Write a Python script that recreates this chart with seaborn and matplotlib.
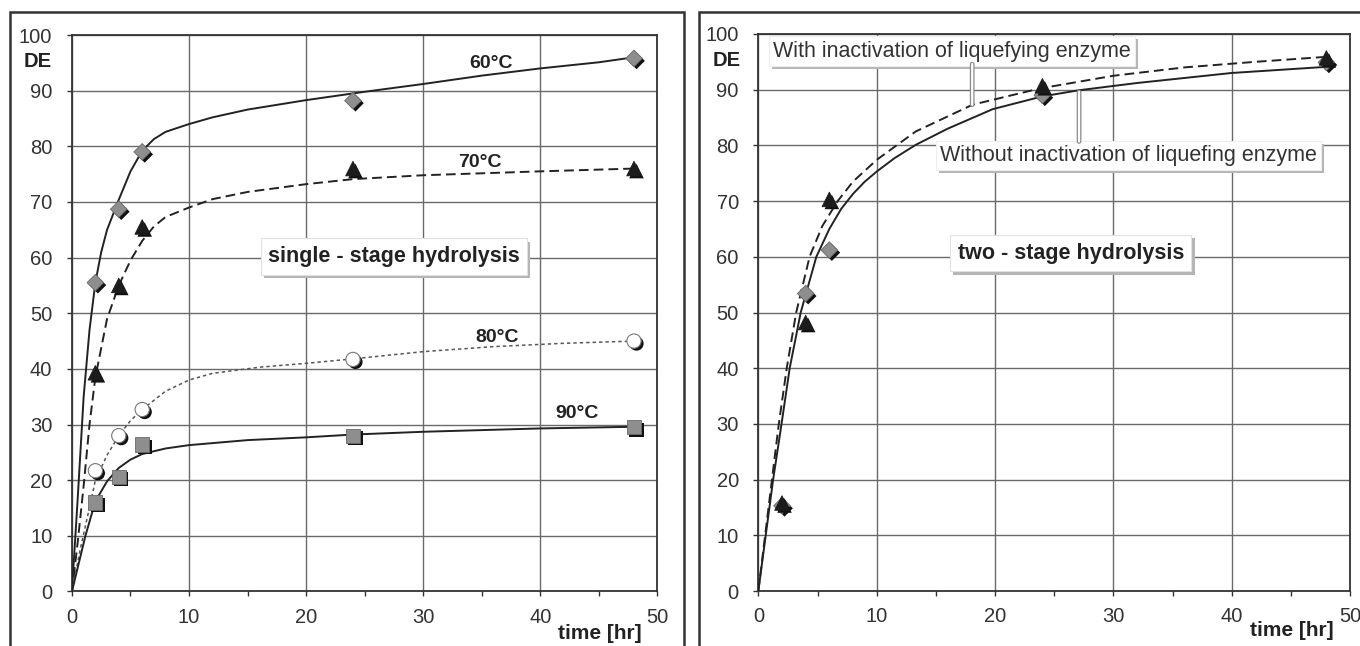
import matplotlib
matplotlib.use("Agg")
import matplotlib.pyplot as plt
import seaborn as sns
from matplotlib import patheffects as pe
from matplotlib.patches import Rectangle

# ---------------- data ----------------
time_h = [2, 4, 6, 24, 48]

# single-stage hydrolysis (measured points)
de_60C = [55.5, 68.7, 79.0, 88.2, 95.8]
de_70C = [39.3, 55.0, 65.5, 76.0, 76.0]
de_80C = [21.7, 28.0, 32.7, 41.7, 45.0]
de_90C = [16.0, 20.6, 26.4, 28.0, 29.5]

# single-stage hydrolysis (fitted curves)
fit60_t = [0, 0.5, 1, 1.5, 2, 2.5, 3, 4, 5, 6, 7, 8, 10, 12, 15, 20, 25, 30, 35, 40, 45, 48]
fit60_de = [0, 17, 35, 47, 55.5, 61, 65, 70.4, 75.5, 79.2, 81.3, 82.6, 84.0, 85.2, 86.6, 88.3,
            89.8, 91.2, 92.7, 94.0, 95.1, 96.0]
fit70_t = [0, 0.5, 1, 1.5, 2, 3, 4, 5, 6, 7, 8, 10, 12, 15, 20, 24, 30, 40, 48]
fit70_de = [0, 9, 19, 30, 38.5, 49, 55, 59.5, 63, 65.6, 67.3, 69, 70.5, 71.8, 73.2, 74.1, 74.8, 75.5, 76.0]
fit80_t = [0, 0.7, 1.7, 2, 3, 4, 5, 6, 8, 10, 12, 16, 20, 24, 30, 36, 42, 48]
fit80_de = [0, 7.5, 17, 20, 24.5, 28, 30.7, 32.7, 36, 38, 39.2, 40.3, 41.0, 41.8, 43.1, 44.0, 44.6, 45.0]
fit90_t = [0, 1.15, 2, 3, 4, 5, 6, 8, 10, 15, 20, 24, 30, 40, 48]
fit90_de = [0, 10, 16.2, 19.8, 22.2, 23.7, 24.7, 25.7, 26.3, 27.2, 27.7, 28.2, 28.7, 29.3, 29.6]

# two-stage hydrolysis (measured points)
de_with_inact = [15.8, 48.2, 70.3, 90.7, 95.7]      # triangles
de_without_inact = [15.3, 53.4, 61.2, 89.0, 94.9]   # diamonds

# two-stage hydrolysis (fitted curves)
fit_with_t = [0, 1.15, 1.73, 2.4, 3.2, 4.33, 5.4, 6.7, 8, 10, 13.3, 18.1, 23.75, 30, 36, 42, 48]
fit_with_de = [0, 20, 30, 40, 50, 60, 65.5, 70, 73.5, 77.4, 82.5, 87.3, 90.2, 92.5, 94.0, 95.0, 95.9]
fit_wo_t = [0, 1.25, 1.96, 2.65, 3.58, 4.9, 6, 7, 8, 9, 10, 11.5, 13.3, 16, 19.8, 24, 27.1, 32, 40, 48]
fit_wo_de = [0, 20, 30, 40, 50, 60, 65, 68.6, 71.3, 73.5, 75.3, 77.7, 80.1, 83, 86.5, 88.8, 89.9,
             91.2, 93.0, 94.1]

temp_labels = ["60°C", "70°C", "80°C", "90°C"]
x_ticks = [0, 10, 20, 30, 40, 50]
y_ticks = [0, 10, 20, 30, 40, 50, 60, 70, 80, 90, 100]

# ---------------- style ----------------
sns.set_theme(style="white")
plt.rcParams["font.family"] = ["Liberation Sans", "DejaVu Sans"]

fig = plt.figure(figsize=(13.6, 6.46), dpi=100)
axL = fig.add_axes([0.0529, 0.0844, 0.4305, 0.8614])
axR = fig.add_axes([0.5576, 0.0851, 0.4351, 0.8623])

LINE = "#222222"


def draw_fit(ax, t, y, ls, color=LINE, lw=1.4):
    sns.lineplot(x=t, y=y, ax=ax, color=color, lw=lw, linestyle=ls,
                 sort=False, estimator=None, errorbar=None, zorder=4)


def draw_pts(ax, t, y, marker, s, face, edge, lw=0.6):
    sns.scatterplot(x=t, y=y, ax=ax, marker=marker, s=s, color=face,
                    edgecolor=edge, linewidth=lw, zorder=6)
    ax.collections[-1].set_path_effects([
        pe.SimplePatchShadow(offset=(1.8, -1.8), shadow_rgbFace="#111111", alpha=1.0),
        pe.Normal()])


def shadow_box(txt, shade="#b5b5b5"):
    txt.get_bbox_patch().set_path_effects([
        pe.SimplePatchShadow(offset=(2.2, -2.2), shadow_rgbFace=shade, alpha=1.0),
        pe.Normal()])


def callout(ax, x, y0, y1):
    ax.annotate("", xy=(x, y1), xytext=(x, y0),
                arrowprops=dict(arrowstyle="-", color="#8a8a8a", lw=3.4,
                                shrinkA=0, shrinkB=0), zorder=8)
    ax.annotate("", xy=(x, y1), xytext=(x, y0),
                arrowprops=dict(arrowstyle="-", color="white", lw=1.6,
                                shrinkA=0, shrinkB=0), zorder=8)


def style_axes(ax):
    ax.set_xlim(0, 50)
    ax.set_ylim(0, 100)
    ax.set_xticks(x_ticks)
    ax.set_xticks([5, 15, 25, 35, 45], minor=True)
    ax.set_yticks(y_ticks)
    ax.grid(True, which="major", color="#6a6a6a", lw=1.0)
    ax.set_axisbelow(True)
    for sp in ax.spines.values():
        sp.set_visible(True)
        sp.set_color("#333333")
        sp.set_linewidth(1.3)
    ax.tick_params(which="both", direction="out", length=3.6, width=1.0,
                   color="#333333", bottom=True, left=True, top=False, right=False)
    ax.tick_params(which="major", labelsize=14.5, labelcolor="#333333")
    ax.tick_params(axis="y", pad=10.5)
    ax.tick_params(axis="x", pad=8)
    ax.set_xlabel("")
    ax.set_ylabel("")


# ---------------- left panel ----------------
draw_fit(axL, fit60_t, fit60_de, "-")
draw_fit(axL, fit70_t, fit70_de, (0, (5.0, 2.6)))
draw_fit(axL, fit80_t, fit80_de, (0, (2.2, 2.0)), color="#555555", lw=1.1)
draw_fit(axL, fit90_t, fit90_de, "-")

draw_pts(axL, time_h, de_60C, "D", 72, "#8e8e8e", "#6a6a6a")
draw_pts(axL, time_h, de_70C, "^", 110, "#1c1c1c", "#1c1c1c")
draw_pts(axL, time_h, de_80C, "o", 105, "white", "#777777", lw=0.8)
draw_pts(axL, time_h, de_90C, "s", 105, "#8e8e8e", "#6a6a6a")

lab_kw = dict(ha="center", va="center", fontsize=14, fontweight="bold", color="#222222", zorder=7)
axL.text(35.8, 94.9, temp_labels[0], **lab_kw)
axL.text(34.8, 77.1, temp_labels[1], **lab_kw)
axL.text(36.3, 45.7, temp_labels[2], **lab_kw)
axL.text(43.1, 31.9, temp_labels[3], **lab_kw)

tL = axL.text(27.5, 60.2, "single - stage hydrolysis", ha="center", va="center",
              fontsize=15.5, fontweight="bold", color="#222222", zorder=7,
              bbox=dict(boxstyle="square,pad=0.35", fc="white", ec="#e2e2e2", lw=0.8))
shadow_box(tL)

# ---------------- right panel ----------------
draw_fit(axR, fit_wo_t, fit_wo_de, "-")
draw_fit(axR, fit_with_t, fit_with_de, (0, (5.0, 2.6)))
draw_pts(axR, time_h, de_without_inact, "D", 72, "#8e8e8e", "#6a6a6a")
draw_pts(axR, time_h, de_with_inact, "^", 110, "#1c1c1c", "#1c1c1c")

t1 = axR.text(1.25, 96.9, "With inactivation of liquefying enzyme", ha="left", va="center",
              fontsize=15.5, color="#333333", zorder=7,
              bbox=dict(boxstyle="square,pad=0.2", fc="white", ec="#eeeeee", lw=0.8))
shadow_box(t1)
t2 = axR.text(15.36, 78.2, "Without inactivation of liquefing enzyme", ha="left", va="center",
              fontsize=15.5, color="#333333", zorder=7,
              bbox=dict(boxstyle="square,pad=0.2", fc="white", ec="#eeeeee", lw=0.8))
shadow_box(t2)
callout(axR, 18.07, 94.6, 87.3)
callout(axR, 27.1, 89.6, 80.7)

tR = axR.text(26.4, 60.6, "two - stage hydrolysis", ha="center", va="center",
              fontsize=15.5, fontweight="bold", color="#222222", zorder=7,
              bbox=dict(boxstyle="square,pad=0.35", fc="white", ec="#e2e2e2", lw=0.8))
shadow_box(tR)

for ax in (axL, axR):
    style_axes(ax)

axL.text(-0.058, 0.953, "DE", transform=axL.transAxes, ha="center", va="center",
         fontsize=14.5, fontweight="bold", color="#222222")
axR.text(-0.054, 0.9515, "DE", transform=axR.transAxes, ha="center", va="center",
         fontsize=14.5, fontweight="bold", color="#222222")
axL.text(0.901, -0.0754, "time [hr]", transform=axL.transAxes, ha="center", va="center",
         fontsize=15, fontweight="bold", color="#222222")
axR.text(0.901, -0.070, "time [hr]", transform=axR.transAxes, ha="center", va="center",
         fontsize=15, fontweight="bold", color="#222222")

# outer panel frames
fig.add_artist(Rectangle((0.007, -0.05), 0.4959, 1.0314, transform=fig.transFigure,
                         fill=False, ec="#333333", lw=1.8))
fig.add_artist(Rectangle((0.5143, -0.05), 0.55, 1.0314, transform=fig.transFigure,
                         fill=False, ec="#333333", lw=1.8))

fig.savefig("out.png", dpi=100)
